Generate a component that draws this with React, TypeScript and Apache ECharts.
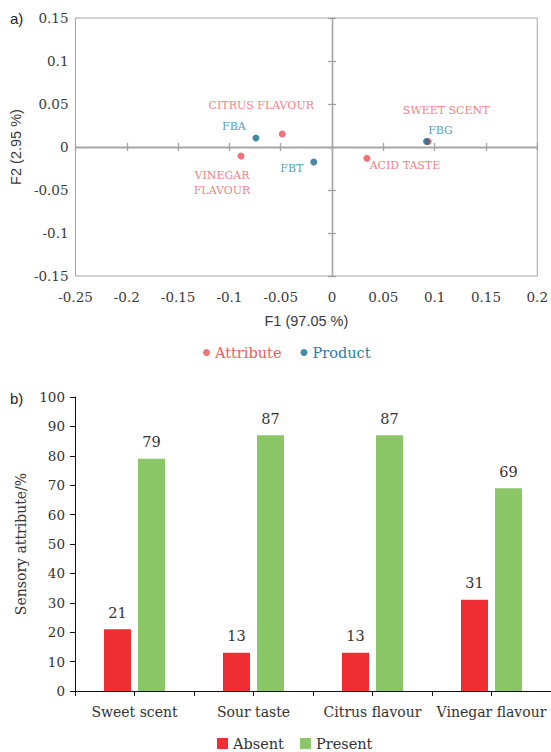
import React, { useEffect, useRef } from 'react';
import * as echarts from 'echarts';

// ---- Data: panel a (PCA map) ----
const attrNames = ['CITRUS FLAVOUR', 'VINEGAR\nFLAVOUR', 'ACID TASTE', 'SWEET SCENT'];
const attrF1 = [-0.0485, -0.0887, 0.034, 0.0937];
const attrF2 = [0.0151, -0.0105, -0.013, 0.0064];
const prodNames = ['FBA', 'FBT', 'FBG'];
const prodF1 = [-0.0742, -0.0178, 0.0921];
const prodF2 = [0.0105, -0.0174, 0.0064];

// ---- Data: panel b (bars) ----
const categories = ['Sweet scent', 'Sour taste', 'Citrus flavour', 'Vinegar flavour'];
const absent = [21, 13, 13, 31];
const present = [79, 87, 87, 69];
const halfTicks = ['', '', '', '', '', '', '', ''];

// ---- Layout (label offsets in px) ----
const attrOffsets = [[-21, -29], [-19, 27], [38, 7], [18, -31]];
const prodOffsets = [[-22, -11], [-22, 7], [14, -11]];

const serif = 'DejaVu Serif';
const sans = 'Liberation Sans';
const txt = '#3a3a3a';
const redPt = '#EF4F55';
const redLbl = '#EC5E62';
const bluePt = '#1A6A8E';
const blueLbl = '#277FA6';
const zeroCol = '#A3A3A3';

function buildOption() {
  const rx = { min: -0.25, max: 0.2, interval: 0.05 };
  const ry = { min: -0.15, max: 0.15, interval: 0.05 };
  return {
    animation: false,
    grid: [
      { left: 73, right: 12, top: 18, height: 258, show: true, borderColor: '#A6A6A6', borderWidth: 1 },
      { left: 75, right: 0, top: 397, height: 294 },
    ],
    graphic: [
      { type: 'text', x: 10, y: 18, style: { text: 'a)', fontSize: 15, fontFamily: sans, fill: '#222', verticalAlign: 'middle' } },
      { type: 'text', x: 10, y: 398, style: { text: 'b)', fontSize: 15, fontFamily: sans, fill: '#222', verticalAlign: 'middle' } },
    ],
    legend: [
      {
        data: [
          { name: 'Attribute', textStyle: { color: redLbl } },
          { name: 'Product', textStyle: { color: blueLbl } },
        ],
        icon: 'circle', itemWidth: 7, itemHeight: 7, itemGap: 19,
        left: 198, top: 340,
        textStyle: { fontFamily: serif, fontSize: 14.5 },
      },
      {
        data: ['Absent', 'Present'],
        icon: 'rect', itemWidth: 11, itemHeight: 11, itemGap: 16,
        left: 212, top: 731,
        textStyle: { fontFamily: serif, fontSize: 14.5, color: '#333' },
      },
    ],
    xAxis: [
      {
        gridIndex: 0, type: 'value', ...rx, position: 'bottom',
        axisLine: { show: false, onZero: false }, axisTick: { show: false }, splitLine: { show: false },
        axisLabel: { fontFamily: serif, fontSize: 13.5, color: txt, margin: 14 },
        name: 'F1 (97.05 %)', nameLocation: 'middle', nameGap: 37,
        nameTextStyle: { fontFamily: sans, fontSize: 14.5, color: txt },
      },
      {
        gridIndex: 0, type: 'value', ...rx, position: 'bottom',
        axisLine: { show: true, onZero: true, onZeroAxisIndex: 0, lineStyle: { color: zeroCol, width: 1.3 } },
        axisTick: { show: true, inside: true, length: 4, lineStyle: { color: zeroCol, width: 1.3 } },
        axisLabel: { show: false }, splitLine: { show: false },
      },
      {
        gridIndex: 0, type: 'value', ...rx, position: 'bottom',
        axisLine: { show: true, onZero: true, onZeroAxisIndex: 0, lineStyle: { color: zeroCol, width: 1.3 } },
        axisTick: { show: true, inside: false, length: 4, lineStyle: { color: zeroCol, width: 1.3 } },
        axisLabel: { show: false }, splitLine: { show: false },
      },
      {
        gridIndex: 1, type: 'category', data: categories, position: 'bottom',
        axisLine: { show: true, onZero: false, lineStyle: { color: '#111', width: 1 } },
        axisTick: { show: false },
        axisLabel: { fontFamily: serif, fontSize: 14, color: '#333', margin: 14, interval: 0 },
      },
      {
        gridIndex: 1, type: 'category', data: halfTicks, position: 'bottom',
        axisLine: { show: false, onZero: false },
        axisTick: { show: true, interval: 0, length: 5, lineStyle: { color: '#111', width: 1 } },
        axisLabel: { show: false, interval: 0 },
      },
    ],
    yAxis: [
      {
        gridIndex: 0, type: 'value', ...ry, position: 'left',
        axisLine: { show: false, onZero: false }, axisTick: { show: false }, splitLine: { show: false },
        axisLabel: { fontFamily: serif, fontSize: 13.5, color: txt, margin: 7 },
        name: 'F2 (2.95 %)', nameLocation: 'middle', nameGap: 48,
        nameTextStyle: { fontFamily: sans, fontSize: 14.5, color: txt },
      },
      {
        gridIndex: 0, type: 'value', ...ry, position: 'left',
        axisLine: { show: true, onZero: true, onZeroAxisIndex: 0, lineStyle: { color: zeroCol, width: 1.3 } },
        axisTick: { show: true, inside: true, length: 4, lineStyle: { color: zeroCol, width: 1.3 } },
        axisLabel: { show: false }, splitLine: { show: false },
      },
      {
        gridIndex: 0, type: 'value', ...ry, position: 'left',
        axisLine: { show: true, onZero: true, onZeroAxisIndex: 0, lineStyle: { color: zeroCol, width: 1.3 } },
        axisTick: { show: true, inside: false, length: 4, lineStyle: { color: zeroCol, width: 1.3 } },
        axisLabel: { show: false }, splitLine: { show: false },
      },
      {
        gridIndex: 1, type: 'value', min: 0, max: 100, interval: 10, position: 'left',
        axisLine: { show: true, lineStyle: { color: '#111', width: 1 } },
        axisTick: { show: true, length: 5, lineStyle: { color: '#111', width: 1 } },
        splitLine: { show: false },
        axisLabel: { fontFamily: serif, fontSize: 13.5, color: '#333', margin: 10 },
        name: 'Sensory attribute/%', nameLocation: 'middle', nameGap: 46,
        nameTextStyle: { fontFamily: serif, fontSize: 14, color: '#333' },
      },
    ],
    series: [
      {
        name: 'Attribute', type: 'scatter', xAxisIndex: 0, yAxisIndex: 0,
        symbolSize: 7, itemStyle: { color: redPt },
        label: {
          show: true, position: 'inside', formatter: '{b}', color: redLbl,
          fontFamily: serif, fontSize: 11, lineHeight: 14.5, align: 'center',
        },
        data: attrNames.map((n, i) => ({
          name: n, value: [attrF1[i], attrF2[i]], label: { offset: attrOffsets[i] },
        })),
      },
      {
        name: 'Product', type: 'scatter', xAxisIndex: 0, yAxisIndex: 0,
        symbolSize: 7, itemStyle: { color: bluePt },
        label: {
          show: true, position: 'inside', formatter: '{b}', color: blueLbl,
          fontFamily: serif, fontSize: 11, align: 'center',
        },
        data: prodNames.map((n, i) => ({
          name: n, value: [prodF1[i], prodF2[i]], label: { offset: prodOffsets[i] },
        })),
      },
      {
        name: 'Absent', type: 'bar', xAxisIndex: 3, yAxisIndex: 3,
        data: absent, barWidth: 27, barGap: '26%',
        itemStyle: { color: '#EE2E33' },
        label: { show: true, position: 'top', distance: 9, fontFamily: serif, fontSize: 14.5, color: '#333' },
      },
      {
        name: 'Present', type: 'bar', xAxisIndex: 3, yAxisIndex: 3,
        data: present, barWidth: 27, barGap: '26%',
        itemStyle: { color: '#8BC767' },
        label: { show: true, position: 'top', distance: 9, fontFamily: serif, fontSize: 14.5, color: '#333' },
      },
    ],
  };
}

export default function App() {
  const ref = useRef<HTMLDivElement>(null);
  useEffect(() => {
    if (!ref.current) return;
    const chart = echarts.init(ref.current, null, { renderer: 'svg' });
    chart.setOption(buildOption() as any);
    return () => chart.dispose();
  }, []);
  return (
    <div
      ref={ref}
      style={{ position: 'fixed', left: 0, top: 0, width: 551, height: 752, background: '#fff' }}
    />
  );
}
